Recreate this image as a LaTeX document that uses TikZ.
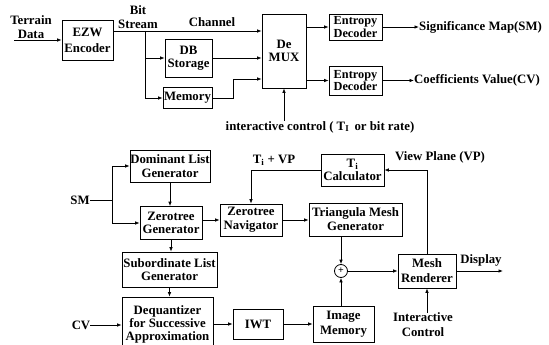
\documentclass[tikz,border=0pt]{standalone}
\usepackage{fontspec}
\setmainfont{Liberation Serif}
\usetikzlibrary{arrows.meta,calc}
\begin{document}
\begin{tikzpicture}[x=1pt,y=-1pt,
  every node/.style={font=\bfseries\fontsize{12.8}{13.5}\selectfont},
  blk/.style={draw,line width=0.8pt,inner sep=0pt,align=center},
  bx/.style 2 args={minimum width=#1pt,minimum height=#2pt},
  lbl/.style={inner sep=0pt,align=center},
  arr/.style={line width=0.8pt,-{Latex[length=4.5pt,width=3.6pt]}},
  ln/.style={line width=0.8pt}]
\useasboundingbox (0,0) rectangle (549,345);
\clip (0,0) rectangle (549,345);

% ---------- top part ----------
\node[blk,bx={51}{40},font=\bfseries\fontsize{12.8}{16}\selectfont] (ezw) at (87.5,40) {EZW\\Encoder};
\node[blk,bx={47}{38}] (db) at (188.5,58) {DB\\Storage};
\node[blk,bx={49}{21}] (mem) at (187.5,98) {Memory};
\node[blk,bx={44}{74}] (demux) at (284,51) {De\\MUX};
\node[blk,bx={53}{26},font=\bfseries\fontsize{12.3}{11}\selectfont] (ed1) at (355.5,27) {Entropy\\Decoder};
\node[blk,bx={53}{29},font=\bfseries\fontsize{12.3}{11}\selectfont] (ed2) at (355.5,80.5) {Entropy\\Decoder};

\node[lbl] (terrain) at (31,27) {Terrain\\Data};
\coordinate (tstart) at (14,40);
\node[lbl] (bitstream) at (138,17) {Bit\\Stream};
\node[lbl] (channel) at (212,22) {Channel};
\node[lbl,anchor=west] (smout) at (419,27) {Significance Map(SM)};
\node[lbl,anchor=west] (cvout) at (414,80.5) {Coefficients Value(CV)};
\node[lbl] (icl) at (320,127) {interactive control ( T\textsubscript{I}\, or bit rate)};

\coordinate (br) at (145,31);
\coordinate (mj) at (233,98);

\draw[arr] (tstart) -- (ezw.west);
\draw[arr] (ezw.east |- br) -- (br -| demux.west);
\draw[ln] (br) -- (br |- mem);
\draw[arr] (br |- db) -- (db.west);
\draw[arr] (br |- mem) -- (mem.west);
\draw[arr] (db.east) -- (db.east -| demux.west);
\draw[arr] (mem.east) -- (mj) |- ($(demux.west)+(0,28)$);
\draw[arr] (demux.east |- ed1) -- (ed1.west);
\draw[arr] (demux.east |- ed2) -- (ed2.west);
\draw[arr] (ed1.east) -- (smout.west);
\draw[arr] (ed2.east) -- (cvout.west);
\draw[arr] (demux.south |- icl.north) -- (demux.south);

% ---------- bottom part ----------
\node[blk,bx={80}{32}] (dom) at (170,166) {Dominant List\\Generator};
\node[blk,bx={62}{33}] (ztg) at (171,223) {Zerotree\\Generator};
\node[blk,bx={95}{35}] (sub) at (169.5,269.5) {Subordinate List\\Generator};
\node[blk,bx={91}{54},font=\bfseries\fontsize{12.8}{13}\selectfont] (deq) at (167.5,324) {Dequantizer\\for Successive\\Approximation};
\node[blk,bx={62}{32},font=\bfseries\fontsize{12.8}{14}\selectfont] (nav) at (251,220) {Zerotree\\Navigator};
\node[blk,bx={93}{33},font=\bfseries\fontsize{12.8}{14}\selectfont] (tri) at (355.5,219.5) {Triangula Mesh\\Generator};
\node[blk,bx={63}{32}] (tcalc) at (352.5,170) {T\textsubscript{i}\\Calculator};
\node[draw,line width=0.8pt,circle,inner sep=0pt,minimum size=13pt,font=\bfseries\fontsize{10}{10}\selectfont] (plus) at (341,271) {+};
\node[blk,bx={61}{36},font=\bfseries\fontsize{12.8}{14.5}\selectfont] (img) at (343.5,324) {Image\\Memory};
\node[blk,bx={58}{34},font=\bfseries\fontsize{12.8}{15}\selectfont] (mesh) at (427,271) {Mesh\\Renderer};
\node[blk,bx={50}{30}] (iwt) at (258,324) {IWT};

\node[lbl] (sm) at (80,200) {SM};
\node[lbl] (cv) at (81,325) {CV};
\node[lbl] (tivp) at (274,160) {T\textsubscript{i} + VP};
\node[lbl] (vp) at (440,157) {View Plane (VP)};
\node[lbl] (disp) at (481,260) {Display};
\node[lbl,font=\bfseries\fontsize{12.8}{15}\selectfont] (ictl) at (423,325) {Interactive\\Control};

\coordinate (smj) at (112,200);
\coordinate (dispend) at (503,271);

\draw[ln] (sm.east) -- (smj);
\draw[arr] (smj) |- (dom.west);
\draw[arr] (smj) |- (ztg.west);
\draw[arr] (dom.south) -- (dom.south |- ztg.north);
\draw[arr] (ztg.south) -- (ztg.south |- sub.north);
\draw[arr] (sub.south) -- (sub.south |- deq.north);
\draw[arr] (ztg.east |- nav) -- (nav.west);
\draw[arr] (nav.east) -- (nav.east -| tri.west);
\draw[arr] (tcalc.west) -| (nav.north);
\draw[arr] (mesh.north) |- (tcalc.east);
\draw[arr] (tri.south -| plus) -- (plus.north);
\draw[arr] (img.north -| plus) -- (plus.south);
\draw[arr] (plus.east) -- (plus.east -| mesh.west);
\draw[arr] (mesh.east) -- (dispend);
\draw[arr] (ictl.north -| mesh.south) -- (mesh.south);
\draw[arr] (cv.east) -- (cv.east -| deq.west);
\draw[arr] (deq.east |- iwt) -- (iwt.west);
\draw[arr] (iwt.east) -- (img.west);
\end{tikzpicture}
\end{document}
